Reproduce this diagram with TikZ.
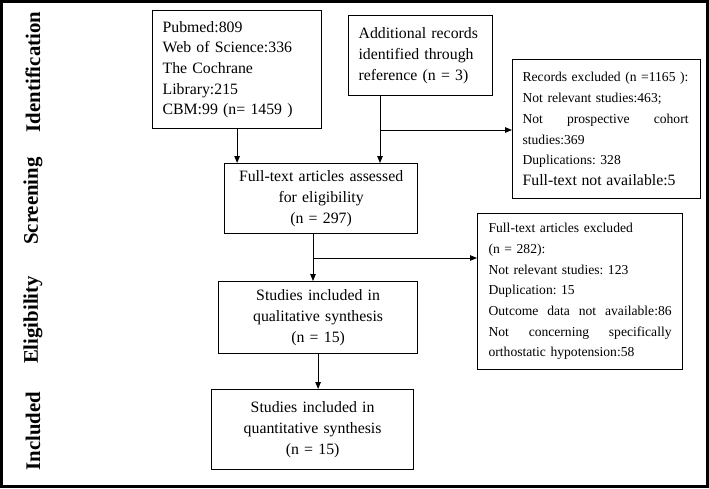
\documentclass[tikz,border=0pt]{standalone}
\usepackage{fontspec}
\setmainfont{Liberation Serif}
\usetikzlibrary{arrows.meta}

\tikzset{
  box/.style={draw,line width=1.2pt,anchor=north west,inner xsep=10pt,inner ysep=2pt,
    font=\fontsize{15.8}{20.7}\selectfont\frenchspacing},
  smallbox/.style={box,font=\fontsize{13.6}{20.7}\selectfont\frenchspacing},
  stage/.style={rotate=90,font=\fontsize{20.8}{24}\selectfont\bfseries},
  arr/.style={line width=0.9pt,-{Triangle[length=7pt,width=5.5pt]}}
}
\newcommand{\fillline}[2]{\leavevmode\hbox to #1{#2}}

\begin{document}
\begin{tikzpicture}[x=1pt,y=-1pt]
      \useasboundingbox (0,0) rectangle (709,488);
      \draw[line width=3pt] (1.5,1.5) rectangle (707.5,486.5);
      \node[stage] (sid) at (33,72) {Identification};
      \node[stage] (ssc) at (33,201) {Screening};
      \node[stage] (sel) at (33,320) {Eligibility};
      \node[stage] (sin) at (33,431) {Included};
      \node[box,text width=149pt,minimum height=118pt,align=left] (db) at (152,10)
        {Pubmed:809\\Web of Science:336\\The Cochrane\\Library:215\\CBM:99 (n= 1459 )};
      \node[box,text width=124pt,minimum height=80pt,align=left] (add) at (348,15)
        {Additional records\\identified through\\reference (n = 3)};
      \node[smallbox,inner xsep=10pt,text width=168pt,minimum height=139pt,align=left] (rex) at (512,59)
        {Records excluded (n =1165 ):\\Not relevant studies:463;\\\fillline{166pt}{Not\hfill prospective\hfill cohort}\\studies:369\\Duplications: 328\\{\fontsize{15.8}{20.7}\selectfont Full-text not available:5}};
      \node[box,text width=173pt,minimum height=70pt,align=center] (ft) at (224,163)
        {Full-text articles assessed\\for eligibility\\(n = 297)};
      \node[smallbox,inner xsep=11pt,text width=183pt,minimum height=156pt,align=left] (fex) at (477,213)
        {Full-text articles excluded\\(n = 282):\\Not relevant studies: 123\\Duplication: 15\\\fillline{183pt}{Outcome\hfill data\hfill not\hfill available:86}\\\fillline{183pt}{Not\hfill concerning\hfill specifically}\\orthostatic hypotension:58};
      \node[box,text width=179pt,minimum height=72pt,align=center] (qual) at (218,281)
        {Studies included in\\qualitative synthesis\\(n = 15)};
      \node[box,text width=182pt,minimum height=80pt,align=center] (quan) at (211,389)
        {Studies included in\\quantitative synthesis\\(n = 15)};
      \coordinate (j1) at (380,130);
      \coordinate (j2) at (313,258);
      \draw[arr] (db.south) -- (db.south |- ft.north);
      \draw[line width=0.9pt] (add.south -| j1) -- (j1);
      \draw[arr] (j1) -- (j1 |- ft.north);
      \draw[arr] (j1) -- (j1 -| rex.west);
      \draw[line width=0.9pt] (ft.south -| j2) -- (j2);
      \draw[arr] (j2) -- (j2 |- qual.north);
      \draw[arr] (j2) -- (j2 -| fex.west);
      \draw[arr] (qual.south) -- (qual.south |- quan.north);
\end{tikzpicture}
\end{document}
